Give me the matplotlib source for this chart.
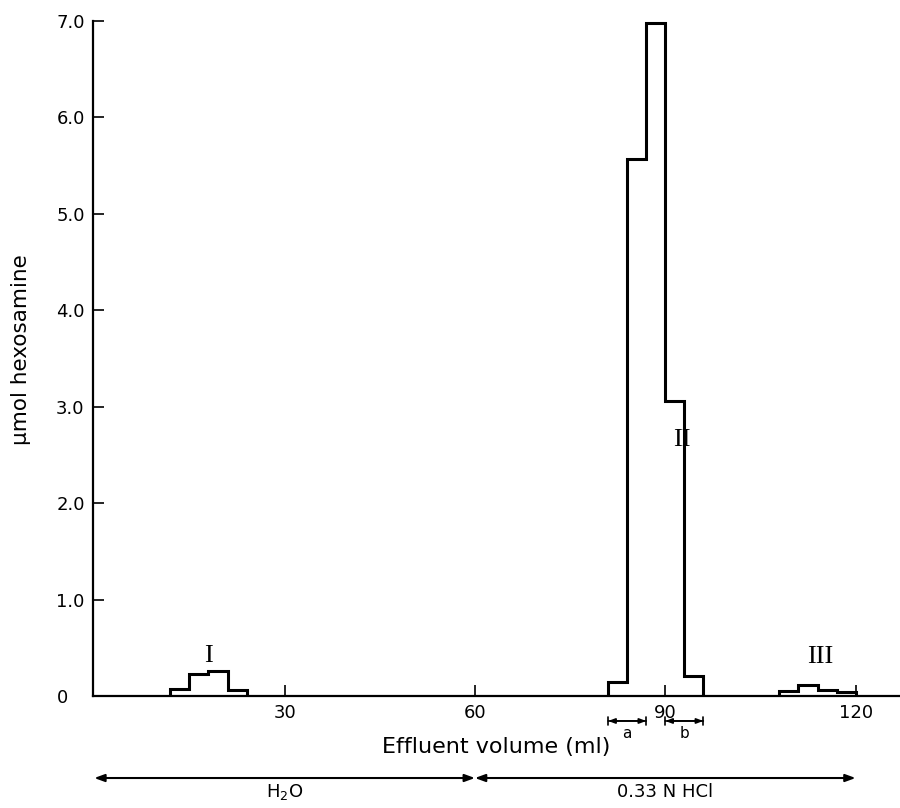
import matplotlib
matplotlib.use("Agg")
import matplotlib.pyplot as plt
from matplotlib.transforms import ScaledTranslation

# fractions of the column eluate (ml) and hexosamine found (umol)
peak1_edges = [12, 15, 18, 21, 24]
peak1_vals = [0.07, 0.23, 0.26, 0.06]
peak2_edges = [81, 84, 87, 90, 93, 96]
peak2_vals = [0.15, 5.57, 6.98, 3.06, 0.21]
peak3_edges = [108, 111, 114, 117, 120]
peak3_vals = [0.055, 0.114, 0.062, 0.045]

peak_names = ["I", "II", "III"]
peak_label_x = [18, 92.6, 114.4]
peak_label_y = [0.42, 2.65, 0.40]

x_ticks = [30, 60, 90, 120]
y_ticks = [0, 1, 2, 3, 4, 5, 6, 7]
y_ticklabels = ["0", "1.0", "2.0", "3.0", "4.0", "5.0", "6.0", "7.0"]

# sub-fractions a and b of peak II
sub_names = ["a", "b"]
sub_ranges = [(81, 87), (90, 96)]

# eluents
eluent_names = ["H$_2$O", "0.33 N HCl"]
eluent_ranges = [(0, 60), (60, 120)]

plt.rcParams["font.family"] = ["DejaVu Sans"]

fig = plt.figure(figsize=(9, 8.08), dpi=100)
ax = fig.add_axes([93 / 900, 112 / 808, 807 / 900, 675 / 808])

for edges, vals in [(peak1_edges, peak1_vals), (peak2_edges, peak2_vals), (peak3_edges, peak3_vals)]:
    ax.stairs(vals, edges, baseline=0, fill=False, color="black", linewidth=2.2, clip_on=False)

for name, x, y in zip(peak_names, peak_label_x, peak_label_y):
    ax.text(x, y, name, ha="center", va="center", fontsize=19, family="Liberation Serif")

ax.set_xlim(-0.2, 127)
ax.set_ylim(0, 7)
ax.set_xticks(x_ticks)
ax.set_xticklabels([str(t) for t in x_ticks])
ax.set_yticks(y_ticks)
ax.set_yticklabels(y_ticklabels)
ax.tick_params(direction="in", length=8, width=1.2, labelsize=13)
ax.tick_params(axis="x", pad=6)
ax.tick_params(axis="y", pad=6)

for sp in ["top", "right"]:
    ax.spines[sp].set_visible(False)
for sp in ["left", "bottom"]:
    ax.spines[sp].set_linewidth(1.6)

# move the "0" label a bit to the left, as in the original
lab0 = ax.get_yticklabels()[0]
lab0.set_transform(lab0.get_transform() + ScaledTranslation(-12 / 72, 0, fig.dpi_scale_trans))

ax.set_ylabel("μmol hexosamine", fontsize=15.5)
ax.yaxis.set_label_coords(-0.077, 0.513)

trans = ax.get_xaxis_transform()
ax.text(63.3, -0.0756, "Effluent volume (ml)", transform=trans, ha="center", va="center", fontsize=16)

for name, (x0, x1) in zip(sub_names, sub_ranges):
    ax.annotate("", xy=(x0, -0.037), xytext=(x1, -0.037), xycoords=trans, textcoords=trans,
                arrowprops=dict(arrowstyle="|-|,widthA=0.3,widthB=0.3", color="black", lw=1.2,
                                shrinkA=0, shrinkB=0))
    ax.annotate("", xy=(x0, -0.037), xytext=(x1, -0.037), xycoords=trans, textcoords=trans,
                arrowprops=dict(arrowstyle="<|-|>,head_length=0.4,head_width=0.15", color="black",
                                lw=1.2, shrinkA=0, shrinkB=0))
    ax.text((x0 + x1) / 2, -0.056, name, transform=trans, ha="center", va="center", fontsize=11)

for name, (x0, x1) in zip(eluent_names, eluent_ranges):
    ax.annotate("", xy=(x0, -0.1215), xytext=(x1, -0.1215), xycoords=trans, textcoords=trans,
                arrowprops=dict(arrowstyle="<|-|>,head_length=0.6,head_width=0.22", color="black",
                                lw=1.5, shrinkA=0, shrinkB=0))
    ax.text((x0 + x1) / 2, -0.142, name, transform=trans, ha="center", va="center", fontsize=13)

fig.savefig("out.png", dpi=100)
